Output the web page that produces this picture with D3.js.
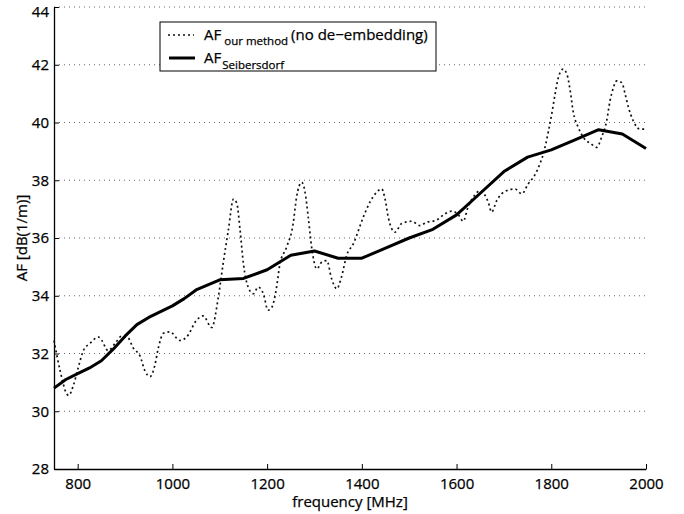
<!DOCTYPE html>
<html>
<head>
<meta charset="utf-8">
<script src="https://cdn.jsdelivr.net/npm/d3@7"></script>
<style>
  body { margin: 0; background: #fff; }
  text { font-family: "Open Sans", "Noto Sans", sans-serif; fill: #000; stroke: #000; stroke-width: 0.25px; }
</style>
</head>
<body>
<div id="chart"></div>
<script>
var svgWidth = 684;
var svgHeight = 514;

// Chart margins
var margin = { top: 7, right: 38, bottom: 45, left: 54 };
var chartWidth = svgWidth - margin.left - margin.right;
var chartHeight = svgHeight - margin.top - margin.bottom;

// Tick values
var xTicks = [800, 1000, 1200, 1400, 1600, 1800, 2000];
var yTicks = [28, 30, 32, 34, 36, 38, 40, 42, 44];

// AF Seibersdorf (solid)
var seibFreq = [750, 775, 800, 825, 850, 875, 900, 925, 950, 975, 1000, 1025, 1050, 1100, 1150, 1200,
  1250, 1300, 1350, 1400, 1450, 1500, 1550, 1600, 1650, 1700, 1750, 1800, 1850, 1900, 1950, 2000];
var seibAF = [30.8, 31.1, 31.3, 31.5, 31.75, 32.15, 32.6, 33.0, 33.25, 33.45, 33.65, 33.9, 34.2, 34.55, 34.6, 34.9,
  35.4, 35.55, 35.3, 35.3, 35.65, 36.0, 36.3, 36.8, 37.55, 38.3, 38.8, 39.05, 39.4, 39.75, 39.6, 39.1];

// AF our method, no de-embedding (dotted)
var ourFreq = [750, 763, 777, 781, 791, 801, 812, 826, 844, 851, 864, 879, 893, 906, 917, 932, 942, 953, 963, 970,
  981, 995, 1016, 1030, 1051, 1065, 1083, 1097, 1107, 1118, 1129, 1136, 1143, 1150, 1160, 1171, 1181, 1192, 1202, 1210,
  1220, 1227, 1241, 1255, 1262, 1273, 1280, 1287, 1294, 1305, 1315, 1326, 1336, 1347, 1357, 1368, 1382, 1403, 1417, 1431,
  1442, 1449, 1456, 1470, 1484, 1505, 1523, 1537, 1555, 1576, 1590, 1604, 1614, 1624, 1639, 1649, 1667, 1674, 1685, 1695,
  1706, 1723, 1738, 1751, 1766, 1776, 1783, 1794, 1801, 1808, 1815, 1825, 1833, 1840, 1846, 1857, 1868, 1885, 1896, 1906,
  1917, 1924, 1931, 1938, 1949, 1956, 1963, 1973, 1987, 2000];
var ourAF = [32.45, 31.4, 30.6, 30.55, 30.9, 31.5, 32.1, 32.35, 32.57, 32.45, 32.1, 32.35, 32.6, 32.55, 32.2, 31.9, 31.4, 31.2, 31.6, 32.17,
  32.7, 32.75, 32.45, 32.57, 33.15, 33.3, 32.9, 33.95, 35.1, 36.26, 37.35, 37.2, 36.26, 35.1, 34.3, 34.07, 34.3, 34.07, 33.5, 33.6,
  34.3, 35.1, 35.68, 36.5, 37.4, 37.93, 37.6, 36.7, 35.68, 34.93, 35.16, 35.22, 34.6, 34.24, 34.65, 35.4, 35.8, 36.72, 37.24, 37.58,
  37.7, 37.35, 36.7, 36.2, 36.5, 36.58, 36.43, 36.55, 36.6, 36.84, 36.93, 36.8, 36.58, 37.06, 37.5, 37.64, 37.24, 36.9, 37.3, 37.53,
  37.64, 37.7, 37.53, 37.87, 38.2, 38.57, 38.9, 39.7, 40.3, 40.98, 41.56, 41.85, 41.67, 41.1, 40.4, 39.83, 39.48, 39.25, 39.14, 39.48,
  40.06, 40.75, 41.2, 41.44, 41.38, 40.98, 40.52, 40.06, 39.77, 39.77];

var seibData = seibFreq.map((f, i) => ({ x: f, y: seibAF[i] }));
var ourData = ourFreq.map((f, i) => ({ x: f, y: ourAF[i] }));

var svg = d3.select("#chart")
  .append("svg")
  .attr("width", svgWidth)
  .attr("height", svgHeight);

var chartGroup = svg.append("g")
  .attr("transform", `translate(${margin.left}, ${margin.top})`);

var xScale = d3.scaleLinear().domain([750, 2000]).range([0, chartWidth]);
var yScale = d3.scaleLinear().domain([28, 44]).range([chartHeight, 0]);

// Dotted horizontal grid
chartGroup.append("g")
  .selectAll("line")
  .data(yTicks.filter(d => d > 28))
  .enter()
  .append("line")
  .attr("x1", 0)
  .attr("x2", chartWidth)
  .attr("y1", d => yScale(d))
  .attr("y2", d => yScale(d))
  .attr("stroke", "#555")
  .attr("stroke-width", 0.9)
  .attr("stroke-dasharray", "1,4");

// Axes
var bottomAxis = d3.axisBottom(xScale).tickValues(xTicks).tickFormat(d3.format("d"))
  .tickSizeInner(-5).tickSizeOuter(0).tickPadding(9);
var leftAxis = d3.axisLeft(yScale).tickValues(yTicks).tickFormat(d3.format("d"))
  .tickSizeInner(-5).tickSizeOuter(0).tickPadding(5);

var xAxis = chartGroup.append("g")
  .attr("transform", `translate(0, ${chartHeight})`)
  .call(bottomAxis);
var yAxis = chartGroup.append("g").call(leftAxis);

[xAxis, yAxis].forEach(function(ax) {
  ax.selectAll("path").attr("stroke", "#000").attr("stroke-width", 1.3);
  ax.selectAll("line").attr("stroke", "#000");
  ax.selectAll("text").style("font-size", "15px").attr("fill", "#000");
});
// keep the top label inside the picture
yAxis.selectAll(".tick").filter(d => d === 44).select("text").attr("dy", "0.6em");

// Lines
var lineGen = d3.line()
  .x(d => xScale(d.x))
  .y(d => yScale(d.y));

chartGroup.append("path")
  .attr("fill", "none")
  .attr("stroke", "#111")
  .attr("stroke-width", 1.7)
  .attr("stroke-dasharray", "2,3")
  .attr("d", lineGen.curve(d3.curveMonotoneX)(ourData));

chartGroup.append("path")
  .attr("fill", "none")
  .attr("stroke", "#000")
  .attr("stroke-width", 3)
  .attr("stroke-linejoin", "round")
  .attr("d", lineGen.curve(d3.curveLinear)(seibData));

// Axis labels
svg.append("text")
  .attr("x", margin.left + chartWidth / 2)
  .attr("y", 507)
  .attr("text-anchor", "middle")
  .style("font-size", "15px")
  .text("frequency [MHz]");

svg.append("text")
  .attr("transform", "rotate(-90)")
  .attr("x", -(margin.top + chartHeight / 2))
  .attr("y", 27)
  .attr("text-anchor", "middle")
  .style("font-size", "15px")
  .text("AF [dB(1/m)]");

// Legend
var legend = svg.append("g");
legend.append("rect")
  .attr("x", 160).attr("y", 22)
  .attr("width", 276).attr("height", 49)
  .attr("fill", "#fff").attr("stroke", "#000").attr("stroke-width", 1);

legend.append("line")
  .attr("x1", 168).attr("x2", 194).attr("y1", 35).attr("y2", 35)
  .attr("stroke", "#111").attr("stroke-width", 1.7).attr("stroke-dasharray", "2,3");
legend.append("line")
  .attr("x1", 169).attr("x2", 195).attr("y1", 58).attr("y2", 58)
  .attr("stroke", "#000").attr("stroke-width", 3);

var t1 = legend.append("text").attr("x", 204).attr("y", 40).style("font-size", "15px");
t1.append("tspan").text("AF");
t1.append("tspan").attr("dx", 3).attr("dy", 5).style("font-size", "11.5px").text("our method");
t1.append("tspan").attr("dx", 3).attr("dy", -5).text("(no de\u2212embedding)");

var t2 = legend.append("text").attr("x", 204).attr("y", 63).style("font-size", "15px");
t2.append("tspan").text("AF");
t2.append("tspan").attr("dx", 1).attr("dy", 6).style("font-size", "11.5px").text("Seibersdorf");
</script>
</body>
</html>
